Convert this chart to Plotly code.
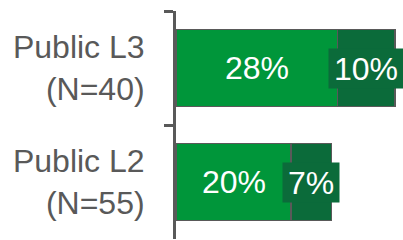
import plotly.graph_objects as go

categories = ["Public L3<br>(N=40)", "Public L2<br>(N=55)"]
share_a = [28, 20]
share_b = [10, 7]
labels_a = ["28%", "20%"]
labels_b = ["10%", "7%"]

LIGHT = "#00963A"
DARK = "#0B6B3A"
GRAY = "#595959"
FONT = "Arial, Liberation Sans, sans-serif"
FS = 32


def box_width(label):
    digits = sum(ch.isdigit() for ch in label)
    return round(0.556 * FS * digits + 0.889 * FS + 8)


fig = go.Figure()
fig.add_trace(go.Bar(y=categories, x=share_a, orientation="h", width=0.675,
                     marker=dict(color=LIGHT, line=dict(color=GRAY, width=1.5)),
                     hoverinfo="skip"))
fig.add_trace(go.Bar(y=categories, x=share_b, orientation="h", width=0.675,
                     marker=dict(color=DARK, line=dict(color=GRAY, width=1.5)),
                     hoverinfo="skip"))

annotations = []
for cat, a, b, la, lb in zip(categories, share_a, share_b, labels_a, labels_b):
    annotations.append(dict(x=a / 2, y=cat, text=la, showarrow=False,
                            font=dict(family=FONT, size=FS, color="white"),
                            bgcolor=LIGHT, borderpad=1))
    annotations.append(dict(x=a + b / 2, y=cat, text=lb, showarrow=False,
                            font=dict(family=FONT, size=FS, color="white"),
                            bgcolor=DARK, borderpad=1, width=box_width(lb),
                            height=37))

fig.update_layout(
    barmode="stack",
    width=403, height=240,
    margin=dict(l=176, r=0, t=11, b=1),
    paper_bgcolor="white", plot_bgcolor="white",
    showlegend=False,
    annotations=annotations,
    font=dict(family=FONT, color=GRAY),
    xaxis=dict(range=[0, 39.4], showgrid=False, zeroline=False,
               showticklabels=False, showline=False, fixedrange=True),
    yaxis=dict(autorange="reversed", showline=True, linecolor=GRAY, linewidth=3,
               ticks="outside", tickson="boundaries", ticklen=9, tickwidth=3,
               tickcolor=GRAY, tickfont=dict(family=FONT, size=FS, color=GRAY),
               ticklabelstandoff=22, showgrid=False, fixedrange=True),
)

fig.write_html("out.html", config={"displayModeBar": False},
               post_script="document.body.style.margin='0';")
